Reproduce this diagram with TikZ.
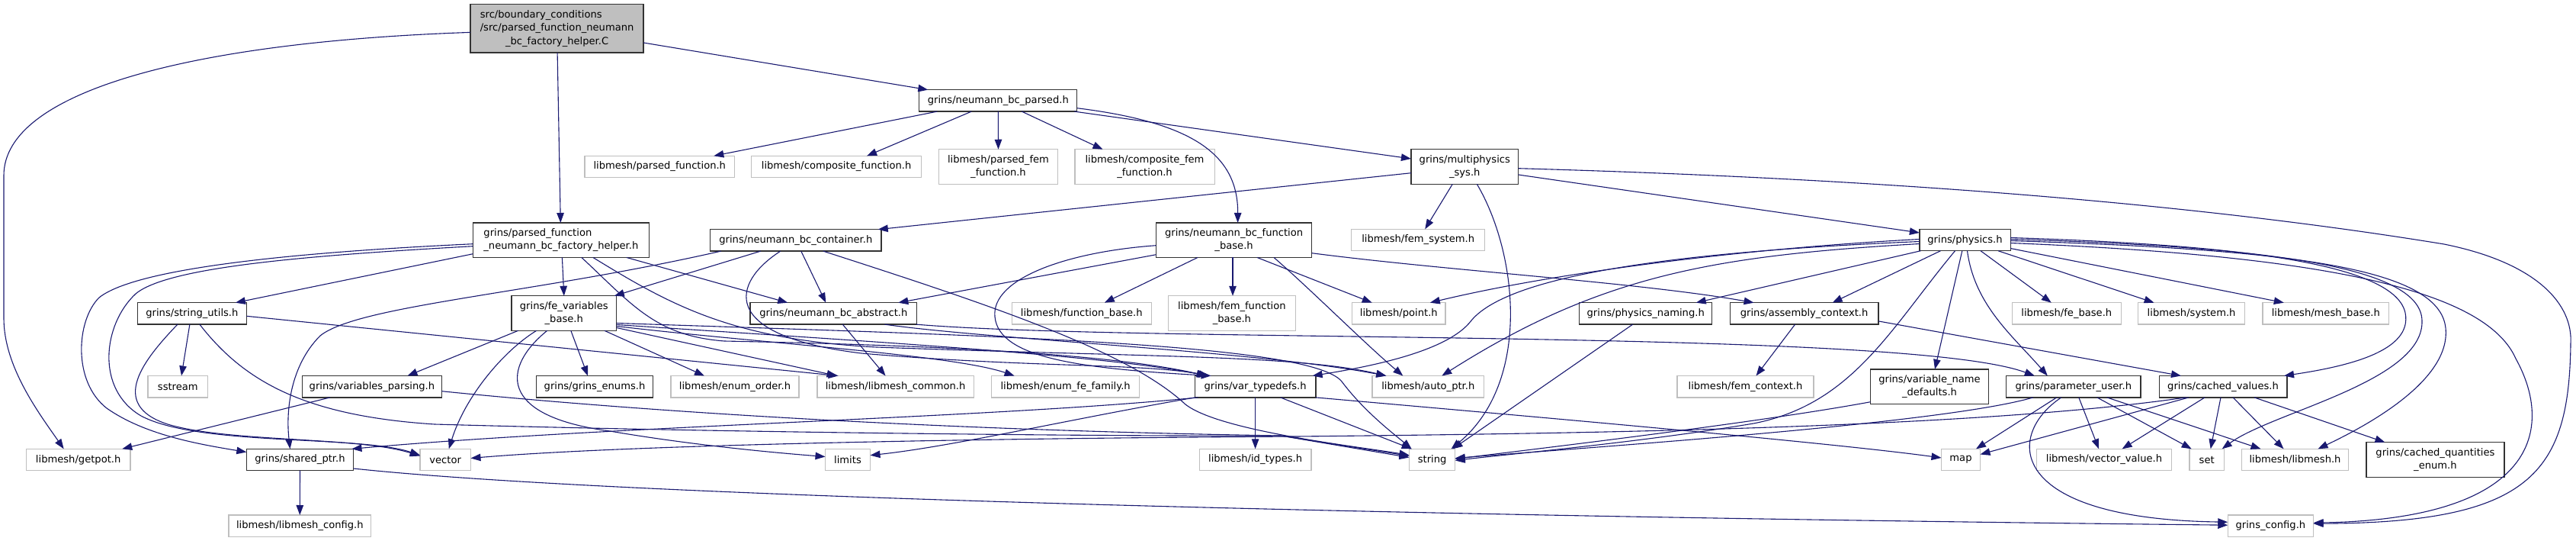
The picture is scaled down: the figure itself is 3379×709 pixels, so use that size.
\documentclass[tikz,border=0pt]{standalone}
\usepackage{fontspec}
\setmainfont{DejaVu Sans}
\usetikzlibrary{arrows.meta}
\definecolor{edgec}{HTML}{191970}
\definecolor{lgray}{HTML}{BFBFBF}
\tikzset{
  nb/.style={rectangle, inner sep=0pt, outer sep=0pt, align=center, fill=white, line width=1.3pt, font=\fontsize{13.1pt}{17.6pt}\selectfont},
  gnode/.style={nb, draw=black!80},
  lnode/.style={nb, draw=lgray},
  rnode/.style={nb, draw=black!80, fill=lgray},
  one/.style={minimum height=28.4pt},
  two/.style={minimum height=45.5pt},
  dep/.style={draw=edgec, line width=1.1pt, -{Triangle[length=13pt,width=9.5pt]}},
}
\begin{document}
\begin{tikzpicture}[x=1pt,y=-1pt]
\useasboundingbox (0,0) rectangle (3379,709);
% ---------- nodes ----------
\node[rnode, minimum width=227pt, minimum height=63.3pt] (R) at (730.6,37.4) {\rlap{src/boundary\_conditions}\hphantom{/src/parsed\_function\_neumann}\\/src/parsed\_function\_neumann\\\_bc\_factory\_helper.C};
\node[gnode, two, minimum width=231pt, align=left] (H) at (735.9,314.7) {grins/parsed\_function\\\_neumann\_bc\_factory\_helper.h};
\node[gnode, one, minimum width=207pt] (NP) at (1309.3,131.9) {grins/neumann\_bc\_parsed.h};
\node[lnode, one, minimum width=196.7pt] (PF) at (865.3,218.5) {libmesh/parsed\_function.h};
\node[lnode, one, minimum width=223.2pt] (CF) at (1097.1,218.5) {libmesh/composite\_function.h};
\node[lnode, two, minimum width=156.3pt] (PFF) at (1309.5,218.5) {libmesh/parsed\_fem\\\_function.h};
\node[lnode, two, minimum width=183.3pt] (CFF) at (1501.5,218.5) {libmesh/composite\_fem\\\_function.h};
\node[gnode, two, minimum width=140.7pt] (MS) at (1921.3,218.5) {grins/multiphysics\\\_sys.h};
\node[gnode, one, minimum width=224.4pt] (NC) at (1043.8,314.9) {grins/neumann\_bc\_container.h};
\node[gnode, two, minimum width=204.3pt] (FB) at (1618.6,314.7) {grins/neumann\_bc\_function\\\_base.h};
\node[lnode, one, minimum width=174.9pt] (FS) at (1860.2,314.5) {libmesh/fem\_system.h};
\node[gnode, one, minimum width=119.3pt] (PH) at (2577.5,314.5) {grins/physics.h};
\node[gnode, one, minimum width=142.9pt] (SU) at (251.9,410.9) {grins/string\_utils.h};
\node[gnode, two, minimum width=137.8pt] (FV) at (739.8,410.5) {grins/fe\_variables\\\_base.h};
\node[gnode, one, minimum width=218.5pt] (NA) at (1093.3,410.9) {grins/neumann\_bc\_abstract.h};
\node[lnode, one, minimum width=182.9pt] (FBH) at (1418.8,410.9) {libmesh/function\_base.h};
\node[lnode, two, minimum width=166.9pt] (FFB) at (1615.9,410.5) {libmesh/fem\_function\\\_base.h};
\node[lnode, one, minimum width=122.5pt] (PT) at (1834.8,410.9) {libmesh/point.h};
\node[gnode, one, minimum width=174.2pt] (PN) at (2158.7,410.9) {grins/physics\_naming.h};
\node[gnode, one, minimum width=194.9pt] (AC) at (2366.6,410.9) {grins/assembly\_context.h};
\node[lnode, one, minimum width=142.9pt] (FEB) at (2710.8,410.9) {libmesh/fe\_base.h};
\node[lnode, one, minimum width=140.4pt] (SY) at (2874.6,410.9) {libmesh/system.h};
\node[lnode, one, minimum width=165.5pt] (MB) at (3050.8,410.9) {libmesh/mesh\_base.h};
\node[lnode, one, minimum width=78.9pt] (SS) at (233.3,506.7) {sstream};
\node[gnode, one, minimum width=182.9pt] (VP) at (487.9,506.7) {grins/variables\_parsing.h};
\node[gnode, one, minimum width=152.8pt] (GE) at (780,506.7) {grins/grins\_enums.h};
\node[lnode, one, minimum width=168pt] (EO) at (964,506.7) {libmesh/enum\_order.h};
\node[lnode, one, minimum width=205.1pt] (LC) at (1174.6,506.7) {libmesh/libmesh\_common.h};
\node[lnode, one, minimum width=193.8pt] (EF) at (1397.6,506.7) {libmesh/enum\_fe\_family.h};
\node[gnode, one, minimum width=158.5pt] (VT) at (1646.6,506.7) {grins/var\_typedefs.h};
\node[lnode, one, minimum width=146.5pt] (AP) at (1873.3,506.7) {libmesh/auto\_ptr.h};
\node[lnode, one, minimum width=178.9pt] (FC) at (2289.5,506.7) {libmesh/fem\_context.h};
\node[gnode, two, minimum width=154.9pt] (VND) at (2531,506.7) {grins/variable\_name\\\_defaults.h};
\node[gnode, one, minimum width=176.4pt] (PU) at (2719.8,506.7) {grins/parameter\_user.h};
\node[gnode, one, minimum width=167.7pt] (CV) at (2916,506.7) {grins/cached\_values.h};
\node[lnode, one, minimum width=136.4pt] (GP) at (102.7,602.5) {libmesh/getpot.h};
\node[gnode, one, minimum width=140.3pt] (SP) at (393.5,602.5) {grins/shared\_ptr.h};
\node[lnode, one, minimum width=66.6pt] (VE) at (584.2,602.5) {vector};
\node[lnode, one, minimum width=59pt] (LI) at (1112,602.5) {limits};
\node[lnode, one, minimum width=146.9pt] (ID) at (1646.6,602.5) {libmesh/id\_types.h};
\node[lnode, one, minimum width=60.3pt] (ST) at (1878.6,602.5) {string};
\node[lnode, one, minimum width=51pt] (MP) at (2572,602.5) {map};
\node[lnode, one, minimum width=177.4pt] (VV) at (2760,602.5) {libmesh/vector\_value.h};
\node[lnode, one, minimum width=45.4pt] (SE) at (2894.7,602.5) {set};
\node[lnode, one, minimum width=140.3pt] (LM) at (3010.5,602.5) {libmesh/libmesh.h};
\node[gnode, two, minimum width=181pt] (CQ) at (3194.4,602.4) {grins/cached\_quantities\\\_enum.h};
\node[lnode, one, minimum width=186.5pt] (LCF) at (393.3,689.2) {libmesh/libmesh\_config.h};
\node[lnode, one, minimum width=112.3pt] (GC) at (2978.4,689.2) {grins\_config.h};
% ---------- edges ----------
% root
\draw[dep] ([yshift=-5pt]R.west) .. controls (250,55) and (5,120) .. (5,230) -- (5,417) .. controls (5,480) and (50,540) .. ([xshift=-19pt]GP.north);
\draw[dep] ([xshift=0.5pt]R.south) -- ([xshift=-0.6pt]H.north);
\draw[dep] ([yshift=-18.6pt]R.east) -- ([xshift=-92pt]NP.north);
% neumann_bc_parsed
\draw[dep] ([xshift=-80pt]NP.south) -- ([xshift=71pt]PF.north);
\draw[dep] ([xshift=-35pt]NP.south) -- ([xshift=40pt]CF.north);
\draw[dep] (NP.south) -- (PFF.north);
\draw[dep] ([xshift=31pt]NP.south) -- ([xshift=-55pt]CFF.north);
\draw[dep] ([yshift=-9.8pt]NP.east) .. controls (1560,160) and (1624,200) .. ([xshift=5pt]FB.north);
\draw[dep] ([xshift=100pt]NP.south) -- ([yshift=10.5pt]MS.west);
% multiphysics_sys
\draw[dep] ([yshift=-8.2pt]MS.west) -- ([xshift=108pt]NC.north);
\draw[dep] ([xshift=-16pt]MS.south) -- ([xshift=9pt]FS.north);
\draw[dep] ([xshift=16pt]MS.south) .. controls (1990,330) and (2010,500) .. ([xshift=25pt]ST.north);
\draw[dep] ([yshift=-10.5pt]MS.east) -- ([yshift=9.5pt]PH.west);
\draw[dep] ([yshift=-2.2pt]MS.east) .. controls (2500,235) and (2900,270) .. (3206,320) .. controls (3330,345) and (3375,400) .. (3372,450) .. controls (3370,620) and (3320,685) .. ([yshift=3pt]GC.east);
% neumann_bc_container
\draw[dep] ([xshift=-98pt]NC.south) .. controls (700,385) and (470,400) .. (420,440) .. controls (380,480) and (375,540) .. ([xshift=-13pt]SP.north);
\draw[dep] ([xshift=-46pt]NC.south) -- ([xshift=66pt]FV.north);
\draw[dep] ([xshift=-20pt]NC.south) .. controls (960,370) and (940,440) .. (1130,463) .. controls (1350,482) and (1500,476) .. ([xshift=-61pt]VT.north);
\draw[dep] ([xshift=7pt]NC.south) -- ([xshift=-10pt]NA.north);
\draw[dep] ([xshift=36pt]NC.south) .. controls (1300,400) and (1480,460) .. (1555,530) .. controls (1600,565) and (1780,585) .. ([yshift=6pt]ST.west);
% factory helper .h
\draw[dep] ([yshift=-18pt]H.west) -- ([xshift=57pt]SU.north);
\draw[dep] ([yshift=-5pt]H.west) .. controls (400,330) and (180,350) .. (130,390) .. controls (100,420) and (95,500) .. (140,535) .. controls (190,570) and (260,582) .. ([yshift=10pt]SP.west);
\draw[dep] ([yshift=-8pt]H.west) .. controls (400,335) and (220,350) .. (178,385) .. controls (135,425) and (125,510) .. (185,545) .. controls (260,585) and (470,570) .. ([yshift=6pt]VE.west);
\draw[dep] ([xshift=1.5pt]H.south) -- (FV.north);
\draw[dep] ([xshift=86pt]H.south) -- ([xshift=-60pt]NA.north);
\draw[dep] ([xshift=27pt]H.south) .. controls (830,400) and (860,440) .. (950,447) .. controls (1200,452) and (1450,462) .. ([xshift=-64pt]VT.north);
\draw[dep] ([xshift=42pt]H.south) .. controls (880,400) and (960,445) .. (1150,455) .. controls (1500,468) and (1700,465) .. ([xshift=-55pt]AP.north);
% neumann_bc_function_base
\draw[dep] ([yshift=-19pt]FB.west) -- ([xshift=85pt]NA.north);
\draw[dep] ([yshift=-7pt]FB.west) .. controls (1400,330) and (1300,365) .. (1305,415) .. controls (1310,470) and (1420,483) .. ([xshift=-58pt]VT.north);
\draw[dep] ([xshift=-47.6pt]FB.south) -- ([xshift=30pt]FBH.north);
\draw[dep] ([xshift=-1.6pt]FB.south) -- ([xshift=1.1pt]FFB.north);
\draw[dep] ([xshift=30.4pt]FB.south) -- ([xshift=-35pt]PT.north);
\draw[dep] ([xshift=52.4pt]FB.south) .. controls (1720,380) and (1790,450) .. ([xshift=-33pt]AP.north);
\draw[dep] ([yshift=-17pt]FB.east) .. controls (1900,355) and (2150,370) .. ([xshift=-66pt]AC.north);
% neumann_bc_abstract
\draw[dep] ([xshift=12pt]NA.south) -- ([xshift=-13pt]LC.north);
\draw[dep] ([xshift=108pt]NA.south) .. controls (1500,450) and (2500,430) .. ([xshift=-51pt]PU.north);
\draw[dep] ([xshift=67pt]NA.south) .. controls (1300,445) and (1650,460) .. ([xshift=-55pt]AP.north);
% fe_variables_base
\draw[dep] ([xshift=-60pt]FV.south) -- ([xshift=46.6pt]VP.north);
\draw[dep] ([xshift=-36pt]FV.south) .. controls (660,460) and (610,520) .. ([xshift=4.6pt]VE.north);
\draw[dep] ([xshift=-22pt]FV.south) .. controls (660,480) and (650,545) .. (800,565) .. controls (900,582) and (1000,592) .. ([yshift=4pt]LI.west);
\draw[dep] ([xshift=9pt]FV.south) -- ([xshift=-9pt]GE.north);
\draw[dep] ([xshift=53pt]FV.south) -- ([xshift=-40pt]EO.north);
\draw[dep] ([yshift=-19pt]FV.east) -- ([xshift=-77pt]LC.north);
\draw[dep] ([yshift=-17pt]FV.east) .. controls (1000,450) and (1250,465) .. ([xshift=-67pt]EF.north);
\draw[dep] ([yshift=-15pt]FV.east) .. controls (1100,445) and (1450,465) .. ([xshift=-63pt]VT.north);
\draw[dep] ([yshift=-13pt]FV.east) .. controls (1300,440) and (1720,450) .. (1760,500) .. controls (1790,540) and (1830,570) .. ([xshift=-27pt]ST.north);
% string_utils
\draw[dep] ([xshift=-3pt]SU.south) -- ([xshift=4.7pt]SS.north);
\draw[dep] ([xshift=-19pt]SU.south) .. controls (190,470) and (140,530) .. (220,556) .. controls (300,580) and (470,572) .. ([yshift=5pt]VE.west);
\draw[dep] ([xshift=10pt]SU.south) .. controls (320,500) and (400,545) .. (570,556) .. controls (1000,568) and (1500,572) .. (1680,571) -- ([yshift=5pt]ST.west);
\draw[dep] ([yshift=-3.4pt]SU.east) -- ([xshift=-75pt]LC.north);
% variables_parsing
\draw[dep] ([xshift=-55pt]VP.south) -- ([xshift=57.6pt]GP.north);
\draw[dep] ([yshift=-6pt]VP.east) .. controls (900,545) and (1300,565) .. (1680,571) -- ([yshift=3pt]ST.west);
% shared_ptr
\draw[dep] (SP.south) -- (LCF.north);
\draw[dep] ([yshift=-11.5pt]SP.east) .. controls (800,650) and (1800,676) .. ([yshift=1pt]GC.west);
% var_typedefs
\draw[dep] (VT.south) -- (ID.north);
\draw[dep] ([xshift=33pt]VT.south) -- ([xshift=-27pt]ST.north);
\draw[dep] (VT.south east) .. controls (2000,545) and (2400,580) .. ([yshift=2.5pt]MP.west);
\draw[dep] ([xshift=-79pt]VT.south) .. controls (1400,550) and (1250,585) .. ([yshift=5.8pt]LI.east);
\draw[dep] ([xshift=-75pt]VT.south) .. controls (1300,548) and (800,558) .. ([xshift=68pt]SP.north);
% physics
\draw[dep] ([yshift=-2pt]PH.west) .. controls (2200,330) and (1980,360) .. (1930,420) .. controls (1900,460) and (1800,480) .. ([xshift=75pt]VT.north);
\draw[dep] ([yshift=1pt]PH.west) .. controls (2300,325) and (2050,355) .. ([xshift=41pt]PT.north);
\draw[dep] ([yshift=-5pt]PH.west) .. controls (2250,335) and (2100,360) .. ([xshift=18pt]AP.north);
\draw[dep] ([xshift=-58pt]PH.south) -- ([xshift=66pt]PN.north);
\draw[dep] ([xshift=-32pt]PH.south) -- ([xshift=37pt]AC.north);
\draw[dep] ([xshift=-13pt]PH.south) .. controls (2480,430) and (2430,530) .. (2300,555) .. controls (2150,580) and (1980,595) .. ([yshift=-1pt]ST.east);
\draw[dep] ([xshift=-3.7pt]PH.south) -- ([xshift=7pt]VND.north);
\draw[dep] ([xshift=3pt]PH.south) .. controls (2590,400) and (2640,440) .. ([xshift=-34pt]PU.north);
\draw[dep] ([xshift=20.5pt]PH.south) -- ([xshift=-20pt]FEB.north);
\draw[dep] ([xshift=43.5pt]PH.south) -- ([xshift=-49pt]SY.north);
\draw[dep] ([yshift=-11pt]PH.east) -- ([xshift=-55pt]MB.north);
\draw[dep] ([yshift=3pt]PH.east) .. controls (2900,320) and (3140,340) .. (3155,410) .. controls (3165,460) and (3080,480) .. ([xshift=80pt]CV.north);
\draw[dep] ([yshift=1pt]PH.east) .. controls (2950,323) and (3175,345) .. (3177,420) .. controls (3180,500) and (2980,540) .. ([xshift=20pt]SE.north);
\draw[dep] ([yshift=-1pt]PH.east) .. controls (3000,327) and (3200,350) .. (3208,430) .. controls (3215,500) and (3100,560) .. ([xshift=30pt]LM.north);
\draw[dep] ([yshift=-4pt]PH.east) .. controls (3050,335) and (3260,380) .. (3300,470) .. controls (3350,560) and (3330,680) .. ([yshift=4pt]GC.east);
% assembly_context, physics_naming, variable_name_defaults
\draw[dep] ([xshift=-12pt]AC.south) -- ([xshift=14pt]FC.north);
\draw[dep] ([yshift=-10pt]AC.east) -- ([xshift=-55pt]CV.north);
\draw[dep] ([xshift=-17pt]PN.south) -- ([xshift=27pt]ST.north);
\draw[dep] ([yshift=-20pt]VND.west) .. controls (2300,555) and (2000,590) .. ([yshift=1pt]ST.east);
% parameter_user
\draw[dep] ([xshift=-53pt]PU.south) .. controls (2550,555) and (2100,585) .. ([yshift=2pt]ST.east);
\draw[dep] ([xshift=-22pt]PU.south) -- ([xshift=20pt]MP.north);
\draw[dep] ([xshift=-16pt]PU.south) .. controls (2630,570) and (2630,680) .. ([yshift=5pt]GC.west);
\draw[dep] ([xshift=7pt]PU.south) -- ([xshift=-7pt]VV.north);
\draw[dep] ([xshift=31pt]PU.south) -- ([xshift=-20pt]SE.north);
\draw[dep] ([xshift=44pt]PU.south) -- ([xshift=-45pt]LM.north);
% cached_values
\draw[dep] ([xshift=-49pt]CV.south) .. controls (2600,560) and (2100,568) .. (1700,572) .. controls (1200,575) and (800,585) .. ([yshift=2pt]VE.east);
\draw[dep] ([xshift=-45pt]CV.south) -- ([yshift=7pt]MP.east);
\draw[dep] ([xshift=-24pt]CV.south) -- ([xshift=23.6pt]VV.north);
\draw[dep] ([xshift=-3pt]CV.south) -- ([xshift=5pt]SE.north);
\draw[dep] ([xshift=13pt]CV.south) -- ([xshift=-15pt]LM.north);
\draw[dep] ([xshift=41pt]CV.south) -- ([xshift=-66pt]CQ.north);
\end{tikzpicture}
\end{document}
